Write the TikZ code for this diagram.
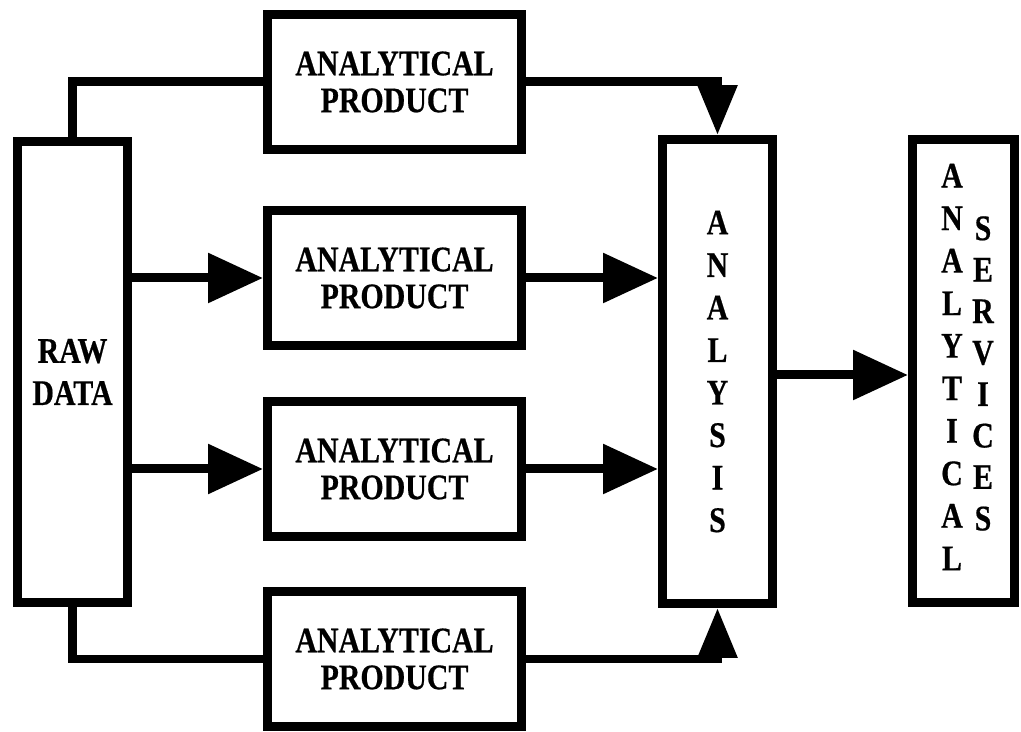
\documentclass[tikz,border=0pt]{standalone}
\usepackage{fontspec}
\newfontfamily\boxfont{Liberation Serif}[FakeStretch=0.83, FakeBold=0.5]
\usepackage{tikz}
\usetikzlibrary{arrows.meta}

\begin{document}
\begin{tikzpicture}[
  x=0.02cm, y=-0.02cm,
  block/.style={draw, line width=0.18cm, inner sep=0pt, align=center,
    font=\boxfont\bfseries\fontsize{20.5}{21}\selectfont},
  product/.style={block, minimum width=5.08cm, minimum height=2.72cm},
  column/.style={inner sep=0pt, align=center,
    font=\boxfont\bfseries\fontsize{20.5}{24.2}\selectfont},
  link/.style={line width=0.18cm},
  harrow/.style={link, -{Triangle[length=1.1cm, width=0.96cm]}},
  varrow/.style={link, -{Triangle[length=1.0cm, width=0.76cm]}}
]
\fill[white] (0,0) rectangle (1021,732);
\useasboundingbox (0,0) rectangle (1021,732);

% Source and the four product boxes
\node[block, minimum width=2.2cm, minimum height=9.22cm,
  font=\boxfont\bfseries\fontsize{20.5}{24}\selectfont] (raw) at (72.5,372) {RAW\\DATA};
\node[product] (prod1) at (394.5,82)  {ANALYTICAL\\PRODUCT};
\node[product] (prod2) at (394.5,278) {ANALYTICAL\\PRODUCT};
\node[product] (prod3) at (394.5,469) {ANALYTICAL\\PRODUCT};
\node[product] (prod4) at (394.5,659) {ANALYTICAL\\PRODUCT};

% Tall boxes with the words set letter by letter
\node[block, minimum width=2.2cm, minimum height=9.28cm] (ana) at (717.5,371.5) {};
\node[column] (anatext) at (ana.center) {A\\N\\A\\L\\Y\\S\\I\\S};
\node[block, minimum width=2.04cm, minimum height=9.26cm] (svc) at (963.5,371) {};
\node[column] (svcleft) at (952,367) {A\\N\\A\\L\\Y\\T\\I\\C\\A\\L};
\node[column, font=\boxfont\bfseries\fontsize{20.5}{23.6}\selectfont]
  (svcright) at (983,373.5) {S\\E\\R\\V\\I\\C\\E\\S};

% Raw data to the products
\draw[link] (raw.north) |- (prod1.west);
\draw[harrow] (raw.east |- prod2.west) -- (prod2.west);
\draw[harrow] (raw.east |- prod3.west) -- (prod3.west);
\draw[link] (raw.south) |- (prod4.west);

% Products into the analysis
\draw[varrow] (prod1.east) -| (ana.north);
\draw[harrow] (prod2.east) -- (ana.west |- prod2.east);
\draw[harrow] (prod3.east) -- (ana.west |- prod3.east);
\draw[varrow] (prod4.east) -| (ana.south);

% Analysis on to the services
\draw[harrow] (ana.east |- 0,375) -- (svc.west |- 0,375);
\end{tikzpicture}
\end{document}
